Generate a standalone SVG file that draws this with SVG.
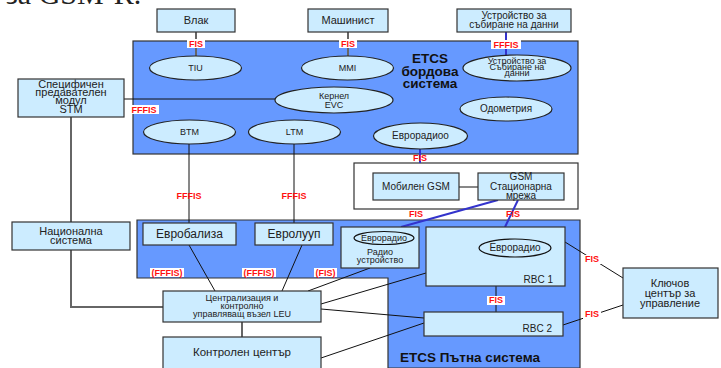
<svg xmlns="http://www.w3.org/2000/svg" width="721" height="368" viewBox="0 0 721 368">
<style>
text{font-family:"Liberation Sans",Arial,sans-serif;fill:#222;text-anchor:middle}
.box{fill:#CCECFF;stroke:#333;stroke-width:1.2}
.ell{fill:#CCECFF;stroke:#222;stroke-width:1.2}
.cont{fill:#6699FF;stroke:#333;stroke-width:1.2}
.t11{font-size:11px}
.t10{font-size:10px}
.t9{font-size:9px}
.big{font-size:13.5px;font-weight:bold;fill:#111}
.ln{stroke:#111;stroke-width:1;fill:none}
.gl{stroke:#666;stroke-width:2;fill:none}
.bl{stroke:#3333CC;stroke-width:2;fill:none}
.lbl{font-size:9px;font-weight:bold;fill:#FF1010}
.lbg{fill:#fff}
</style>
<rect width="721" height="368" fill="#fff"/>
<text x="6" y="4" style="font-family:'Liberation Serif',serif;font-size:30px;text-anchor:start;fill:#222">за GSM-R.</text>
<g id="onboard">
<rect class="cont" x="133" y="41" width="445" height="113"/>
<text class="big" x="430" y="63">ETCS</text>
<text class="big" x="430" y="76">бордова</text>
<text class="big" x="430" y="88">система</text>
</g>
<g id="trackside">
<polygon class="cont" points="137,220 580,220 580,368 388,368 388,278 137,278"/>
<text class="big" x="470" y="362">ETCS Пътна система</text>
</g>
<g id="gsm">
<rect x="354" y="163" width="224" height="46" fill="#fff" stroke="#333" stroke-width="1.2"/>
</g>
<g id="connectors">
<line class="gl" x1="196" y1="32" x2="196" y2="56"/>
<line class="gl" x1="348" y1="32" x2="348" y2="56"/>
<line class="bl" x1="506" y1="32" x2="506" y2="55"/>
<line class="ln" x1="124" y1="99" x2="275" y2="99"/>
<line class="ln" x1="189" y1="144" x2="189" y2="223"/>
<line class="ln" x1="294" y1="144" x2="294" y2="223"/>
<line class="bl" x1="420" y1="149" x2="420" y2="163"/>
<line class="ln" x1="459" y1="187" x2="478" y2="187"/>
<line class="bl" x1="498" y1="200" x2="401" y2="227"/>
<line class="bl" x1="518" y1="200" x2="505" y2="227"/>
<line class="gl" x1="71" y1="117" x2="71" y2="222"/>
<polyline class="gl" points="71,250 71,307 163,307"/>
<line class="gl" x1="242" y1="322" x2="242" y2="337"/>
<line class="ln" x1="189" y1="245" x2="215" y2="291"/>
<line class="ln" x1="302" y1="245" x2="282" y2="291"/>
<line class="ln" x1="370" y1="268" x2="308" y2="291"/>
<line class="ln" x1="321" y1="304" x2="426" y2="273"/>
<line class="ln" x1="321" y1="309" x2="424" y2="318"/>
<line class="ln" x1="321" y1="358" x2="424" y2="323"/>
<line class="ln" x1="565" y1="242" x2="623" y2="278"/>
<line class="ln" x1="563" y1="325" x2="623" y2="305"/>
<line class="ln" x1="496" y1="286" x2="496" y2="312"/>
</g>
<g id="vlak"><rect class="box" x="157" y="9" width="78" height="23"/><text class="t11" x="196" y="24">Влак</text></g>
<g id="mashinist"><rect class="box" x="308" y="9" width="80" height="23"/><text class="t11" x="348" y="24">Машинист</text></g>
<g id="ustroistvo-box"><rect class="box" x="457" y="9" width="114" height="23"/><text class="t10" x="514" y="19">Устройство за</text><text class="t10" x="514" y="28">събиране на данни</text></g>
<g id="tiu"><ellipse class="ell" cx="195.5" cy="68" rx="46" ry="12"/><text class="t9" x="195.5" y="71">TIU</text></g>
<g id="mmi"><ellipse class="ell" cx="347.5" cy="68" rx="46" ry="12"/><text class="t9" x="347.5" y="71">MMI</text></g>
<g id="ustroistvo-ell"><ellipse class="ell" cx="517" cy="68" rx="54" ry="13"/><text class="t9" x="517" y="64">Устройство за</text><text class="t9" x="517" y="70">Събиране на</text><text class="t9" x="517" y="76">данни</text></g>
<g id="kernel"><ellipse class="ell" cx="334" cy="100" rx="59" ry="13"/><text class="t9" x="334" y="99">Кернел</text><text class="t9" x="334" y="108">EVC</text></g>
<g id="odometry"><ellipse class="ell" cx="506" cy="109" rx="46" ry="12"/><text class="t10" x="506" y="112">Одометрия</text></g>
<g id="btm"><ellipse class="ell" cx="189.5" cy="132" rx="46" ry="12"/><text class="t9" x="189.5" y="135">BTM</text></g>
<g id="ltm"><ellipse class="ell" cx="294.5" cy="132" rx="46" ry="12"/><text class="t9" x="294.5" y="135">LTM</text></g>
<g id="euroradio-onboard"><ellipse class="ell" cx="420.5" cy="136" rx="47" ry="13"/><text class="t10" x="420.5" y="139">Еврорадиоо</text></g>
<g id="stm"><rect class="box" x="18" y="79" width="106" height="38"/><text class="t11" x="71" y="88">Специфичен</text><text class="t11" x="71" y="96">предавателен</text><text class="t11" x="71" y="104">модул</text><text class="t11" x="71" y="113">STM</text></g>
<g id="national"><rect class="box" x="12" y="222" width="118" height="28"/><text class="t11" x="71" y="235">Национална</text><text class="t11" x="71" y="244">система</text></g>
<g id="mobile-gsm"><rect class="box" x="373" y="173" width="86" height="27"/><text class="t10" x="416" y="190">Мобилен GSM</text></g>
<g id="gsm-fixed"><rect class="box" x="478" y="173" width="86" height="27"/><text class="t10" x="521" y="180">GSM</text><text class="t10" x="521" y="190">Стационарна</text><text class="t10" x="521" y="199">мрежа</text></g>
<g id="eurobalise"><rect class="box" x="143" y="223" width="93" height="22"/><text style="font-size:12px" x="189.5" y="238">Евробализа</text></g>
<g id="euroloop"><rect class="box" x="255" y="223" width="78" height="22"/><text style="font-size:12px" x="294" y="238">Евролууп</text></g>
<g id="radio-device"><rect class="box" x="341" y="227" width="78" height="41"/><ellipse cx="384" cy="238" rx="30" ry="6.5" fill="none" stroke="#111" stroke-width="1.2"/><text class="t9" x="384" y="241">Еврорадио</text><text class="t9" x="380" y="255">Радио</text><text class="t9" x="380" y="263">устройство</text></g>
<g id="rbc1"><rect class="box" x="426" y="227" width="139" height="59"/><ellipse cx="515" cy="248" rx="36" ry="9" fill="none" stroke="#111" stroke-width="1.2"/><text class="t10" x="515" y="251">Еврорадио</text><text class="t10" x="553" y="283" style="text-anchor:end">RBC 1</text></g>
<g id="rbc2"><rect class="box" x="424" y="312" width="139" height="24"/><text class="t10" x="552" y="332" style="text-anchor:end">RBC 2</text></g>
<g id="key-center"><rect class="box" x="623" y="268" width="95" height="50"/><text class="t11" x="670" y="287">Ключов</text><text class="t11" x="670" y="297">център за</text><text class="t11" x="670" y="307">управление</text></g>
<g id="leu"><rect class="box" x="163" y="291" width="158" height="31"/><text class="t9" x="242" y="301">Централизация и</text><text class="t9" x="242" y="309">контролно</text><text class="t9" x="242" y="317">управляващ възел LEU</text></g>
<g id="control-center"><rect class="box" x="163" y="337" width="158" height="35"/><text style="font-size:11.5px" x="242" y="356">Контролен център</text></g>
<g id="labels">
<rect class="lbg" x="187" y="39" width="18" height="9"/><text class="lbl" x="196" y="46.5">FIS</text>
<rect class="lbg" x="339" y="39" width="18" height="9"/><text class="lbl" x="348" y="46.5">FIS</text>
<rect class="lbg" x="491" y="40" width="30" height="9"/><text class="lbl" x="506" y="47.5">FFFIS</text>
<rect class="lbg" x="129" y="105" width="30" height="9"/><text class="lbl" x="144" y="112.5">FFFIS</text>
<text class="lbl" x="189" y="199">FFFIS</text>
<text class="lbl" x="294" y="199">FFFIS</text>
<text class="lbl" x="420" y="161">FIS</text>
<text class="lbl" x="416" y="217">FIS</text>
<text class="lbl" x="513" y="217">FIS</text>
<rect class="lbg" x="150" y="268" width="34" height="9"/><text class="lbl" x="167" y="275.5">(FFFIS)</text>
<rect class="lbg" x="242" y="268" width="34" height="9"/><text class="lbl" x="259" y="275.5">(FFFIS)</text>
<rect class="lbg" x="314" y="268" width="23" height="9"/><text class="lbl" x="325.5" y="275.5">(FIS)</text>
<rect class="lbg" x="487" y="296" width="18" height="9"/><text class="lbl" x="496" y="303">FIS</text>
<rect class="lbg" x="583" y="255" width="18" height="9"/><text class="lbl" x="592" y="262">FIS</text>
<rect class="lbg" x="583" y="310" width="18" height="9"/><text class="lbl" x="592" y="317">FIS</text>
</g>
</svg>
